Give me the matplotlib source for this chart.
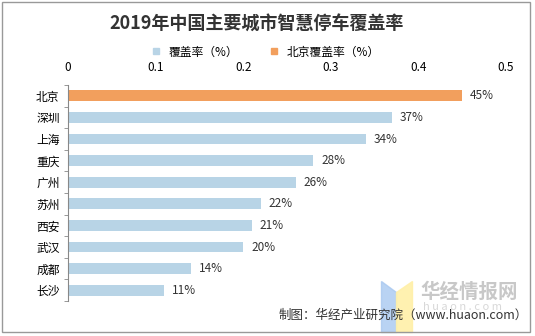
import matplotlib.pyplot as plt
from matplotlib.patches import Rectangle, Polygon
from matplotlib.lines import Line2D

plt.rcParams['font.family'] = ['Noto Sans CJK SC', 'DejaVu Sans']

cities = ['北京', '深圳', '上海', '重庆', '广州', '苏州', '西安', '武汉', '成都', '长沙']
rates = [0.45, 0.37, 0.34, 0.28, 0.26, 0.22, 0.21, 0.20, 0.14, 0.11]
labels = ['45%', '37%', '34%', '28%', '26%', '22%', '21%', '20%', '14%', '11%']
xticks = [0, 0.1, 0.2, 0.3, 0.4, 0.5]

blue = '#B8D4E6'
orange = '#F29F5D'

fig = plt.figure(figsize=(5.35, 3.36), dpi=100)
ax = fig.add_axes([0.127, 0.104, 0.819, 0.643])

ypos = list(range(len(cities)))
colors = [orange] + [blue] * (len(cities) - 1)
ax.barh(ypos, rates, height=0.5, color=colors)
for y, v, s in zip(ypos, rates, labels):
    ax.text(v + 0.009, y, s, va='center', ha='left', fontsize=8.5, color='#333333')

ax.set_xlim(0, 0.5)
ax.set_ylim(len(cities) - 0.5, -0.5)
ax.set_yticks(ypos)
ax.set_yticklabels(cities, fontsize=8.5)
ax.set_yticks([i - 0.5 for i in range(len(cities) + 1)], minor=True)
ax.tick_params(axis='y', which='major', length=0, pad=6)
ax.tick_params(axis='y', which='minor', length=3, color='#888888', direction='out')
ax.xaxis.tick_top()
ax.set_xticks(xticks)
ax.set_xticklabels([str(t) for t in xticks], fontsize=8.5)
ax.tick_params(axis='x', length=0, pad=8)
for side in ['top', 'right', 'bottom']:
    ax.spines[side].set_visible(False)
ax.spines['left'].set_color('#888888')

fig.text(0.48, 0.928, '2019年中国主要城市智慧停车覆盖率', ha='center', va='center',
         fontsize=13, fontweight='bold', color='#333333')

handles = [Line2D([], [], marker='s', linestyle='', color=blue, markersize=5),
           Line2D([], [], marker='s', linestyle='', color=orange, markersize=5)]
fig.legend(handles, ['覆盖率（%）', '北京覆盖率（%）'], loc='center', ncol=2,
           bbox_to_anchor=(0.49, 0.845), frameon=False, fontsize=8.5,
           handletextpad=0.1, columnspacing=2.0)

# watermark
fig.patches.append(Polygon([[0.712, 0.165], [0.712, 0.012], [0.741, 0.012], [0.741, 0.13]],
                           closed=True, transform=fig.transFigure, color='#A8C8F0', alpha=0.8))
fig.patches.append(Polygon([[0.741, 0.13], [0.741, 0.012], [0.77, 0.012], [0.77, 0.165]],
                           closed=True, transform=fig.transFigure, color='#FFF0A8', alpha=0.9))
fig.text(0.785, 0.13, '华经情报网', fontsize=14, fontweight='bold', color='#C8C8C8',
         ha='left', va='center')
fig.text(0.79, 0.085, 'h u a o n . c o m', fontsize=8, color='#D8D8D8',
         ha='left', va='center')

fig.text(0.987, 0.0625, '制图：华经产业研究院（www.huaon.com）', ha='right', va='center',
         fontsize=9, color='#333333')

fig.patches.append(Rectangle((0.004, 0.012), 0.987, 0.983, transform=fig.transFigure,
                             fill=False, edgecolor='#999999', linewidth=1))

fig.savefig('out.png', dpi=100)
